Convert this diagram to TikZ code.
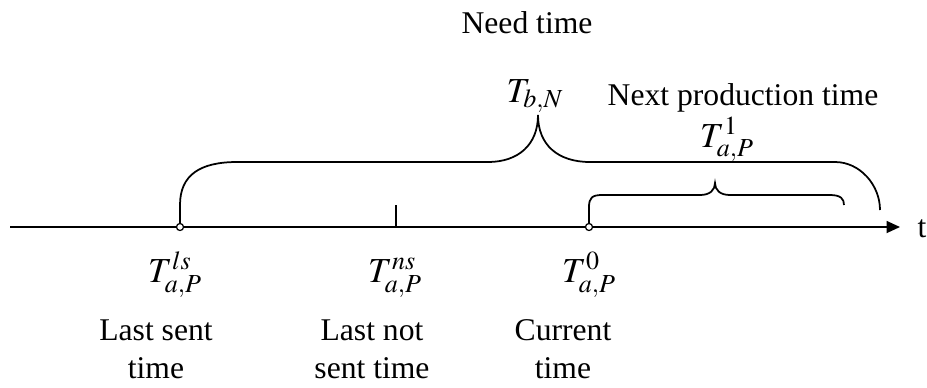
\documentclass[tikz,border=0pt]{standalone}
\usepackage{mathptmx}
\usepackage{fontspec}
\setmainfont{Liberation Serif}
\usetikzlibrary{positioning, arrows.meta, calc}

\begin{document}
\begin{tikzpicture}[
    x=0.02cm, y=-0.02cm,
    >={Triangle[length=2.7mm, width=2.4mm]},
    lbl/.style={font=\fontsize{20}{24}\selectfont, inner sep=0pt, anchor=base},
    txt/.style={font=\fontsize{18}{21.5}\selectfont, align=center, inner sep=0pt},
    brace/.style={line width=1pt},
    dot/.style={circle, draw, line width=0.7pt, minimum size=4pt, inner sep=0pt, fill=white}
]
    \useasboundingbox (0,0) rectangle (927,387);

    % time axis
    \coordinate (a0) at (10,227);
    \coordinate (a1) at (900,227);
    \draw[line width=1pt, ->] (a0) -- (a1);
    \node[txt, anchor=base] (t) at (922,237) {t};

    % marks on the axis
    \coordinate (ls) at (180,227);
    \coordinate (ns) at (396,227);
    \coordinate (now) at (589,227);
    \coordinate (bend) at (880,210);
    \coordinate (send) at (844,205);

    % Need time brace
    \draw[brace] (ls) -- ++(0,-22)
        .. controls (180,175) and (200,162) .. (237,162)
        -- (488,162)
        .. controls (518,162) and (538,145) .. (538,115)
        .. controls (538,145) and (558,162) .. (590,162)
        -- (835,162)
        .. controls (860,162) and (880,185) .. (bend);

    % Next production time brace
    \draw[brace] (now) -- ++(0,-20)
        .. controls (589,198) and (592,195) .. (602,195)
        -- (700,195)
        .. controls (710,195) and (715,190) .. (715,183)
        .. controls (715,190) and (720,195) .. (730,195)
        -- (830,195)
        .. controls (841,195) and (844,199) .. (send);

    % tick for last not sent
    \draw[line width=1pt] (ns) -- ++(0,-22);

    \node[dot] (lsdot) at (ls) {};
    \node[dot] (nowdot) at (now) {};

    % labels above
    \node[txt, anchor=base] (need) at (527,33) {Need time};
    \node[lbl] (tbn) at (535,102) {$T_{b,N}$};
    \node[txt, anchor=base] (next) at (743,105) {Next production time};
    \node[lbl] (t1) at (727,147) {$T_{a,P}^{1}$};

    % labels below
    \node[lbl] (tls) at (175,282) {$T_{a,P}^{ls}$};
    \node[lbl] (tns) at (395,282) {$T_{a,P}^{ns}$};
    \node[lbl] (t0) at (589,282) {$T_{a,P}^{0}$};

    \node[txt] (lsent) at (156,349) {Last sent\\time};
    \node[txt] (lnot) at (372,349) {Last not\\sent time};
    \node[txt] (cur) at (563,349) {Current\\time};
\end{tikzpicture}
\end{document}
